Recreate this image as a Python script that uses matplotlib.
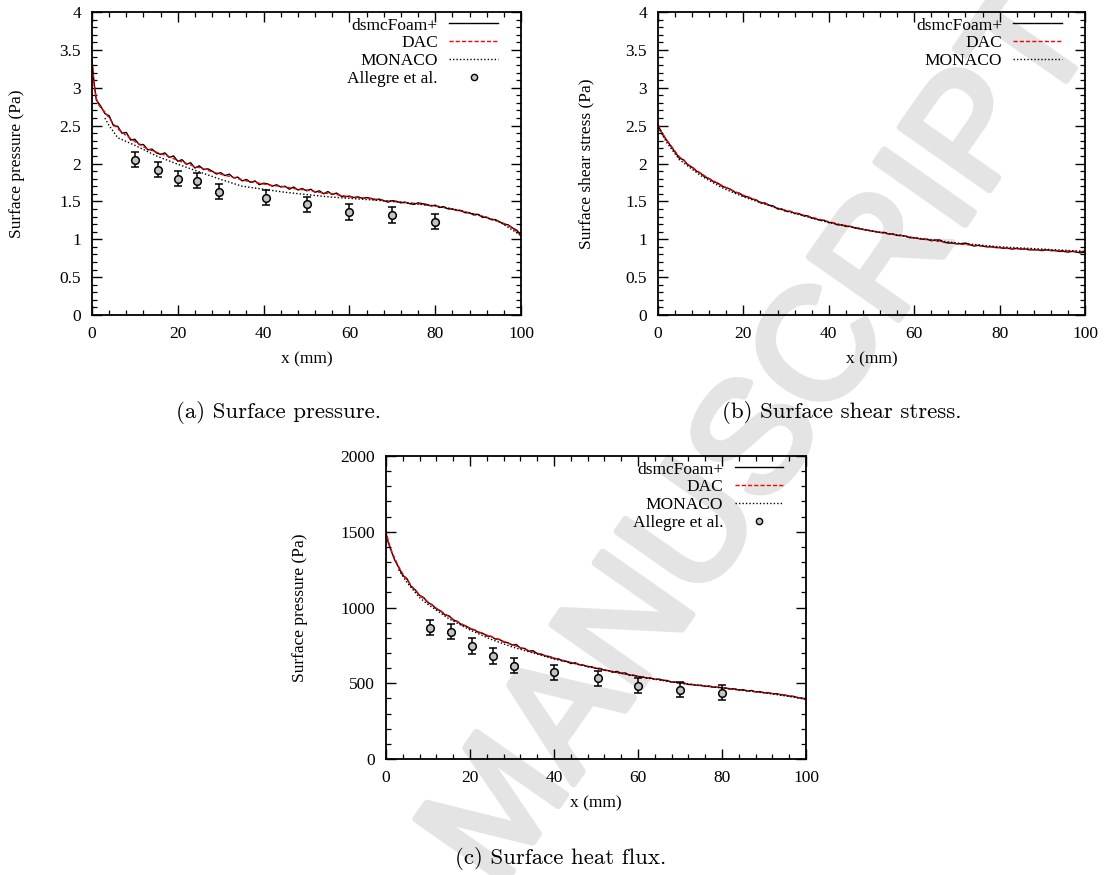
import matplotlib.pyplot as plt
import matplotlib.patheffects as pe
from matplotlib.ticker import MultipleLocator, FormatStrFormatter
from matplotlib.lines import Line2D

plt.rcParams['font.family'] = ['Liberation Serif', 'DejaVu Serif']

#%% data
# dsmcFoam+ is noisy, read on a 1 mm grid
x_fine = [0, 0.5] + list(range(1, 101))
# DAC is smooth, read on a coarser grid
x_sim = [0, 0.5, 1, 1.5, 2, 3, 4, 5, 6, 7, 8, 9, 10, 12, 14, 16, 18, 20, 22, 24, 26,
         28, 30, 32, 34, 36, 38, 40, 42, 44, 46, 48, 50, 52, 54, 56, 58, 60, 62, 64,
         66, 68, 70, 72, 74, 76, 78, 80, 82, 84, 86, 88, 90, 92, 94, 96, 98, 100]

# (a) surface pressure
p_dsmc = [3.36, 3.05, 2.84, 2.76, 2.66, 2.63, 2.50, 2.49, 2.40, 2.41, 2.31, 2.32, 2.25,
          2.25, 2.18, 2.19, 2.14, 2.12, 2.14, 2.08, 2.10, 2.03, 2.05, 1.99, 2.01, 1.94,
          1.97, 1.92, 1.93, 1.90, 1.86, 1.88, 1.84, 1.86, 1.81, 1.82, 1.77, 1.79, 1.75,
          1.77, 1.72, 1.74, 1.73, 1.70, 1.72, 1.69, 1.70, 1.66, 1.69, 1.65, 1.67, 1.64,
          1.66, 1.62, 1.64, 1.60, 1.63, 1.59, 1.61, 1.57, 1.56, 1.57, 1.55, 1.56, 1.54,
          1.55, 1.54, 1.52, 1.53, 1.51, 1.49, 1.51, 1.50, 1.48, 1.49, 1.47, 1.46, 1.48,
          1.47, 1.46, 1.44, 1.45, 1.42, 1.43, 1.40, 1.40, 1.38, 1.38, 1.35, 1.35, 1.32,
          1.33, 1.29, 1.29, 1.26, 1.26, 1.23, 1.20, 1.19, 1.15, 1.12, 1.05]
p_dac = [3.35, 3.05, 2.86, 2.78, 2.74, 2.68, 2.60, 2.52, 2.46, 2.41, 2.37, 2.33, 2.29,
         2.22, 2.17, 2.13, 2.09, 2.04, 2.00, 1.96, 1.93, 1.89, 1.86, 1.83, 1.80, 1.77,
         1.75, 1.73, 1.71, 1.70, 1.68, 1.66, 1.65, 1.63, 1.61, 1.60, 1.58, 1.56, 1.55,
         1.54, 1.53, 1.51, 1.50, 1.49, 1.48, 1.47, 1.45, 1.44, 1.42, 1.40, 1.37, 1.35,
         1.32, 1.29, 1.25, 1.21, 1.15, 1.05]
x_mon_p = [3, 4, 5, 6, 8, 10, 15, 20, 25, 30, 35, 40, 45, 50, 55, 60, 65, 70, 75, 80,
           85, 90, 95, 100]
p_mon = [2.60, 2.50, 2.42, 2.34, 2.29, 2.24, 2.10, 1.99, 1.89, 1.79, 1.70, 1.66, 1.62,
         1.59, 1.56, 1.54, 1.52, 1.50, 1.47, 1.44, 1.39, 1.32, 1.23, 1.05]
x_exp_p = [10, 15.5, 20, 24.5, 29.5, 40.5, 50, 60, 70, 80]
p_exp = [2.05, 1.92, 1.80, 1.77, 1.63, 1.55, 1.46, 1.36, 1.32, 1.23]
p_err = [0.1, 0.1, 0.1, 0.1, 0.1, 0.1, 0.1, 0.1, 0.1, 0.1]

# (b) surface shear stress
s_dsmc = [2.50, 2.45, 2.39, 2.31, 2.23, 2.15, 2.07, 2.05, 1.98, 1.95, 1.90, 1.87, 1.82,
          1.80, 1.76, 1.74, 1.70, 1.68, 1.66, 1.62, 1.61, 1.57, 1.56, 1.53, 1.52, 1.48,
          1.48, 1.45, 1.44, 1.40, 1.40, 1.37, 1.37, 1.34, 1.34, 1.31, 1.31, 1.28, 1.27,
          1.25, 1.25, 1.22, 1.22, 1.19, 1.19, 1.17, 1.17, 1.15, 1.14, 1.13, 1.12, 1.11,
          1.10, 1.09, 1.09, 1.07, 1.07, 1.05, 1.05, 1.04, 1.02, 1.02, 1.01, 1.00, 1.00,
          0.98, 0.99, 0.99, 0.96, 0.95, 0.95, 0.94, 0.94, 0.95, 0.93, 0.91, 0.92, 0.91,
          0.90, 0.90, 0.89, 0.89, 0.88, 0.88, 0.87, 0.88, 0.87, 0.87, 0.86, 0.86, 0.86,
          0.85, 0.86, 0.85, 0.85, 0.84, 0.84, 0.83, 0.84, 0.83, 0.82, 0.83]
s_dac = [2.52, 2.45, 2.40, 2.36, 2.31, 2.24, 2.16, 2.09, 2.04, 1.99, 1.95, 1.91, 1.87,
         1.80, 1.74, 1.68, 1.63, 1.58, 1.54, 1.49, 1.45, 1.41, 1.38, 1.35, 1.32, 1.29,
         1.26, 1.23, 1.20, 1.18, 1.16, 1.13, 1.11, 1.09, 1.07, 1.06, 1.04, 1.02, 1.00,
         0.99, 0.97, 0.96, 0.94, 0.93, 0.92, 0.91, 0.90, 0.89, 0.88, 0.875, 0.87, 0.865,
         0.86, 0.855, 0.85, 0.845, 0.84, 0.835]
x_mon_s = [0, 2, 5, 10, 15, 20, 30, 40, 50, 60, 70, 80, 90, 100]
s_mon = [2.48, 2.28, 2.05, 1.84, 1.68, 1.56, 1.37, 1.22, 1.11, 1.02, 0.95, 0.90, 0.87, 0.84]

# (c) surface heat flux
q_dsmc = [1490, 1432, 1392, 1318, 1265, 1212, 1190, 1138, 1115, 1080, 1065, 1032, 1018,
          990, 978, 952, 945, 918, 908, 886, 878, 860, 853, 836, 830, 812, 810, 792, 790,
          772, 768, 752, 756, 732, 730, 712, 715, 696, 692, 680, 676, 664, 662, 648, 645,
          630, 636, 622, 620, 610, 608, 598, 598, 585, 584, 572, 578, 566, 568, 552, 553,
          544, 543, 534, 535, 525, 528, 520, 518, 507, 508, 500, 502, 492, 492, 486, 487,
          479, 482, 474, 474, 469, 468, 462, 463, 455, 458, 449, 452, 443, 445, 437, 438,
          431, 431, 424, 422, 415, 414, 405, 402, 396]
q_dac = [1510, 1445, 1400, 1360, 1330, 1270, 1222, 1182, 1145, 1112, 1082, 1058, 1036,
         995, 958, 922, 892, 864, 840, 818, 798, 776, 755, 735, 715, 698, 681, 666, 652,
         638, 625, 612, 600, 588, 577, 566, 555, 545, 536, 527, 518, 509, 501, 494, 487,
         480, 475, 470, 463, 456, 450, 444, 438, 432, 425, 416, 406, 395]
x_mon_q = [3, 5, 8, 10, 15, 20, 25, 30, 40, 50, 60, 70, 80, 90, 100]
q_mon = [1250, 1165, 1065, 1020, 925, 852, 790, 740, 660, 598, 545, 500, 470, 438, 395]
x_exp_q = [10.5, 15.5, 20.5, 25.5, 30.5, 40, 50.5, 60, 70, 80]
q_exp = [867, 841, 746, 680, 615, 571, 533, 485, 457, 437]
q_err = [50, 50, 50, 50, 50, 50, 50, 50, 50, 50]

FS = 12.5
MFC = '#c4c4c4'
DAC_LS = (0, (3, 1.5))
MON_LS = (0, (1, 1.5))
WM = '#e4e4e4'

#%% helpers
def estilo(ax, ymax, ymaj, ymin, ylabel, ylab_x):
    ax.set_facecolor('none')
    ax.set_xlim(0, 100)
    ax.set_ylim(0, ymax)
    ax.xaxis.set_major_locator(MultipleLocator(20))
    ax.xaxis.set_minor_locator(MultipleLocator(4))
    ax.yaxis.set_major_locator(MultipleLocator(ymaj))
    ax.yaxis.set_minor_locator(MultipleLocator(ymin))
    ax.yaxis.set_major_formatter(FormatStrFormatter('%g'))
    ax.tick_params(which='both', direction='in', top=True, right=True,
                   labelsize=FS, pad=8)
    ax.tick_params(which='major', length=7, width=1)
    ax.tick_params(which='minor', length=3.5, width=0.9)
    for s in ax.spines.values():
        s.set_linewidth(1.3)
    ax.set_xlabel('x (mm)', fontsize=FS)
    ax.xaxis.set_label_coords(0.5, -0.12)
    ax.set_ylabel(ylabel, fontsize=FS)
    ax.yaxis.set_label_coords(ylab_x, 0.5)


def curvas(ax, y_dsmc, y_dac, x_mon, y_mon):
    ax.plot(x_fine, y_dsmc, color='black', lw=1.0)
    ax.plot(x_sim, y_dac, color='red', lw=1.0, ls=DAC_LS)
    ax.plot(x_mon, y_mon, color='black', lw=1.0, ls=MON_LS)


def experimento(ax, x, y, err):
    ax.errorbar(x, y, yerr=err, fmt='o', ms=5.5, mfc=MFC, mec='black', mew=1.1,
                ecolor='black', elinewidth=1.1, capsize=3, capthick=1.1)
    ax.plot(x, y, 'o', ms=1.6, color='black')


def leyenda(ax, con_exp):
    h = [Line2D([], [], color='black', lw=1.0),
         Line2D([], [], color='red', lw=1.0, ls=DAC_LS),
         Line2D([], [], color='black', lw=1.0, ls=MON_LS)]
    lab = ['dsmcFoam+', 'DAC', 'MONACO']
    if con_exp:
        h.append(Line2D([], [], ls='none', marker='o', ms=4.5, mfc=MFC, mec='black', mew=1))
        lab.append('Allegre et al.')
    ax.legend(h, lab, loc='upper right', bbox_to_anchor=(0.95, 0.988), frameon=False,
              markerfirst=False, fontsize=FS, handlelength=2.8, handletextpad=0.65,
              labelspacing=0.1, borderaxespad=0, borderpad=0.1)

#%% figure
fig = plt.figure(figsize=(11.05, 8.75), dpi=100)

fig.text(0.692, 0.497, 'MANUSCRIPT', fontsize=114, rotation=55, color=WM,
         ha='center', va='center', family='Liberation Sans', zorder=-1,
         path_effects=[pe.withStroke(linewidth=5, foreground=WM)])

ax_a = fig.add_axes([92 / 1105, 1 - 315 / 875, 429 / 1105, 303 / 875])
ax_b = fig.add_axes([658 / 1105, 1 - 315 / 875, 427 / 1105, 303 / 875])
ax_c = fig.add_axes([386 / 1105, 1 - 759 / 875, 420 / 1105, 303 / 875])

curvas(ax_a, p_dsmc, p_dac, x_mon_p, p_mon)
experimento(ax_a, x_exp_p, p_exp, p_err)
estilo(ax_a, 4, 0.5, 0.1, 'Surface pressure (Pa)', -0.156)
leyenda(ax_a, True)

curvas(ax_b, s_dsmc, s_dac, x_mon_s, s_mon)
estilo(ax_b, 4, 0.5, 0.1, 'Surface shear stress (Pa)', -0.150)
leyenda(ax_b, False)

curvas(ax_c, q_dsmc, q_dac, x_mon_q, q_mon)
experimento(ax_c, x_exp_q, q_exp, q_err)
estilo(ax_c, 2000, 500, 100, 'Surface pressure (Pa)', -0.186)
leyenda(ax_c, True)

# subfigure captions
fig.text(278 / 1105, 1 - 413 / 875, '(a) Surface pressure.', fontsize=16.5,
         family='cmr10', ha='center', va='center')
fig.text(842 / 1105, 1 - 413 / 875, '(b) Surface shear stress.', fontsize=16.5,
         family='cmr10', ha='center', va='center')
fig.text(561 / 1105, 1 - 858 / 875, '(c) Surface heat flux.', fontsize=16.5,
         family='cmr10', ha='center', va='center')

fig.savefig('out.png', dpi=100)
